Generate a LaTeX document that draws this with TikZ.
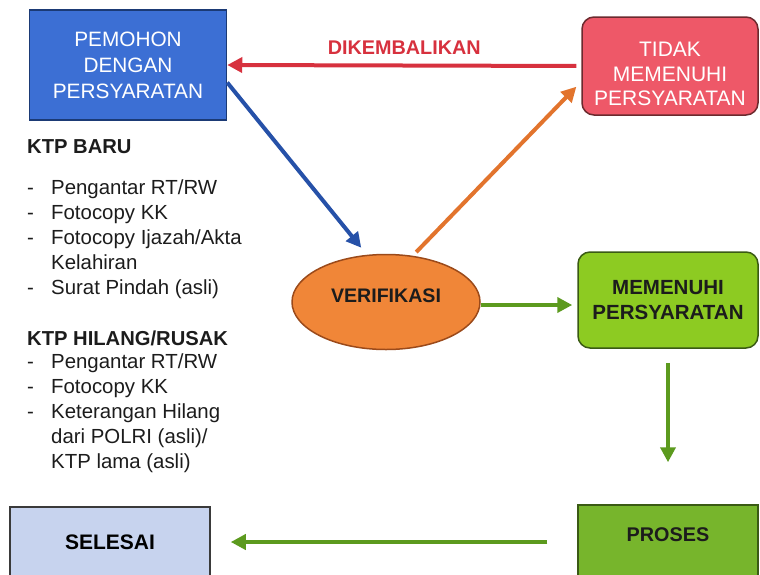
\documentclass[tikz,border=0pt]{standalone}
\usepackage{fontspec}
\setmainfont{Liberation Sans}
\usetikzlibrary{arrows.meta}
\usetikzlibrary{shapes.geometric}
\definecolor{pemblue}{HTML}{3C6FD4}
\definecolor{pemedge}{HTML}{1B3A75}
\definecolor{tidred}{HTML}{EE5868}
\definecolor{tidedge}{HTML}{6B2A2E}
\definecolor{verorange}{HTML}{F08638}
\definecolor{veredge}{HTML}{9B4A1A}
\definecolor{memgreen}{HTML}{8DCB22}
\definecolor{prosgreen}{HTML}{77B52C}
\definecolor{greenedge}{HTML}{3A5A14}
\definecolor{selblue}{HTML}{C7D3EE}
\definecolor{seledge}{HTML}{3A3A3A}
\definecolor{arrred}{HTML}{D7313E}
\definecolor{arrblue}{HTML}{2651A8}
\definecolor{arrorange}{HTML}{E2742D}
\definecolor{arrgreen}{HTML}{5C9A1E}
\definecolor{inkdark}{HTML}{1C1C1C}
\newcommand{\itm}[1]{\makebox[24pt][l]{-}#1}
\begin{document}
\begin{tikzpicture}[x=1pt,y=-1pt,
  box/.style={draw,line width=1.5pt,inner sep=0pt,align=center},
  headnode/.style={inner sep=0pt,anchor=base west,text=inkdark,font=\bfseries\fontsize{20.2}{25}\selectfont},
  listnode/.style={inner sep=0pt,anchor=base west,text=inkdark,font=\fontsize{20.4}{25}\selectfont},
  flow/.style={line width=4pt,-{Triangle[length=15pt,width=15pt]}}]
  \useasboundingbox (0,0) rectangle (760,574);
  \clip (0,0) rectangle (760,574);
  \node[box,fill=pemblue,draw=pemedge,text=white,minimum width=197pt,minimum height=110pt,font=\fontsize{20.8}{26}\selectfont] (pem) at (128,65) {PEMOHON\\DENGAN\\PERSYARATAN};
  \node[box,fill=tidred,draw=tidedge,rounded corners=12pt,minimum width=176pt,minimum height=98pt,
    label={[text=white,align=center,font=\fontsize{21}{24.5}\selectfont,yshift=-8pt]center:TIDAK\\MEMENUHI\\PERSYARATAN}] (tid) at (670,66) {};
  \node[ellipse,draw=veredge,line width=1.5pt,fill=verorange,minimum width=188pt,minimum height=95pt,inner sep=0pt,text depth=12pt,text=inkdark,font=\bfseries\fontsize{19.6}{24}\selectfont] (ver) at (386,302) {VERIFIKASI};
  \node[box,fill=memgreen,draw=greenedge,rounded corners=12pt,minimum width=180pt,minimum height=96pt,text=inkdark,font=\bfseries\fontsize{20.5}{25}\selectfont] (mem) at (668,300) {MEMENUHI\\PERSYARATAN};
  \node[box,fill=prosgreen,draw=greenedge,minimum width=180pt,minimum height=74pt,text depth=14pt,text=inkdark,font=\bfseries\fontsize{19.8}{24}\selectfont] (pros) at (668,542) {PROSES};
  \node[box,fill=selblue,draw=seledge,minimum width=200pt,minimum height=70pt,text=black,font=\bfseries\fontsize{21}{25}\selectfont] (sel) at (110,542) {SELESAI};

  \node[headnode] (baru) at (27,153) {KTP BARU};
  \node[listnode] (barulist) at (27,194) {\begin{tabular}[t]{@{}l@{}}
    \itm{Pengantar RT/RW}\\
    \itm{Fotocopy KK}\\
    \itm{Fotocopy Ijazah/Akta}\\
    \hspace*{24pt}Kelahiran\\
    \itm{Surat Pindah (asli)}
  \end{tabular}};
  \node[headnode] (hilang) at (27,345) {KTP HILANG/RUSAK};
  \node[listnode] (hilanglist) at (27,368) {\begin{tabular}[t]{@{}l@{}}
    \itm{Pengantar RT/RW}\\
    \itm{Fotocopy KK}\\
    \itm{Keterangan Hilang}\\
    \hspace*{24pt}dari POLRI (asli)/\\
    \hspace*{24pt}KTP lama (asli)
  \end{tabular}};

  \draw[flow,arrred,shorten <=5pt](tid.west)--(pem.east) node[midway,above=9pt,inner sep=0pt,text=arrred,font=\bfseries\fontsize{19.8}{24}\selectfont](back){DIKEMBALIKAN};
  \draw[flow,arrblue,shorten >=9pt](pem.-10)--(ver.112);
  \draw[flow,arrorange,shorten <=5pt,shorten >=7pt](ver.60)--(tid.190);
  \draw[flow,arrgreen,shorten >=5pt]([yshift=-3pt]ver.east)--([yshift=-3pt]ver.east -| mem.west);
  \draw[flow,arrgreen,shorten <=14pt,shorten >=42pt](mem.south)--(pros.north);
  \draw[flow,arrgreen,shorten <=30pt,shorten >=20pt](pros.west)--(sel.east);
\end{tikzpicture}
\end{document}
